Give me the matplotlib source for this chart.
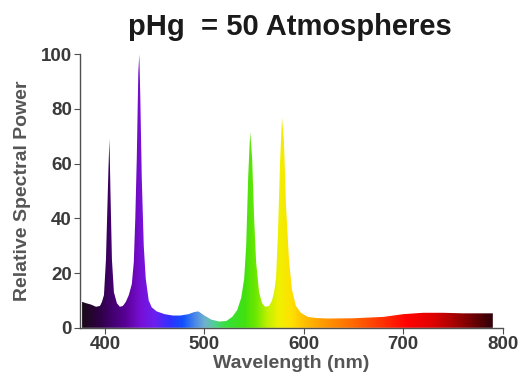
import numpy as np
import matplotlib
matplotlib.use("Agg")
import matplotlib.pyplot as plt
from matplotlib.colors import LinearSegmentedColormap

# Spectrum (wavelength nm, relative spectral power)
wavelength = [377, 381, 386, 391, 395, 397, 399, 401, 402.5, 403.5, 404.5, 405.5,
              407, 409, 412, 415, 418, 421, 424, 427, 429, 430.5, 432, 433.5, 434.5,
              435.5, 437, 439, 441, 444, 447, 452, 460, 468, 476, 484, 490, 494,
              500, 507, 515, 522, 528, 533, 537, 540, 542, 544, 546, 548, 550,
              552, 555, 558, 561, 565, 568, 570, 572, 574, 576, 578, 580, 582,
              585, 588, 592, 597, 604, 612, 625, 650, 680, 700, 720, 740, 760, 790]
power = [9.5, 9, 8.5, 7.7, 8, 9.5, 12, 25, 45, 58, 69, 50,
         25, 13, 9, 7.7, 8, 9.5, 12, 16, 24, 40, 62, 93, 100,
         85, 55, 30, 18, 10, 7.5, 6, 5, 4.5, 4.5, 5, 5.8, 6,
         4.5, 3, 2.3, 2.5, 4, 6.5, 11, 18, 30, 55, 71.5, 62, 40,
         24, 13, 9, 7.7, 8, 10, 13, 18, 35, 60, 77, 68, 45,
         25, 14, 8, 5.5, 4, 3.6, 3.4, 3.5, 4, 5, 5.5, 5.5, 5.3, 5.3]

x_ticks = [400, 500, 600, 700, 800]
y_ticks = [0, 20, 40, 60, 80, 100]
title = "pHg  = 50 Atmospheres"
x_label = "Wavelength (nm)"
y_label = "Relative Spectral Power"

plt.rcParams['font.family'] = ['Liberation Sans', 'DejaVu Sans']

# colour stops by wavelength (style)
stops = [(377, "#1a0a1a"), (395, "#300048"), (405, "#40006a"), (420, "#580096"),
         (436, "#7810d8"), (450, "#6a20f0"), (465, "#3030ff"), (478, "#1050ff"),
         (490, "#4a88e8"), (500, "#70b0d0"), (510, "#50d090"), (520, "#38e040"),
         (540, "#40e010"), (552, "#70e800"), (563, "#c0f000"), (575, "#f0f000"),
         (588, "#ffe000"), (600, "#ffc000"), (620, "#ff9a00"), (650, "#ff6800"),
         (680, "#ff3000"), (705, "#ff0000"), (730, "#e00000"), (760, "#900000"),
         (790, "#300008")]
lo, hi = stops[0][0], stops[-1][0]
spec_cmap = LinearSegmentedColormap.from_list(
    "spec", [((w - lo) / (hi - lo), c) for w, c in stops])

fig = plt.figure(figsize=(5.27, 3.79), dpi=100)
ax = fig.add_axes([0.152, 0.135, 0.802, 0.722])

wl = np.array(wavelength, float)
pw = np.array(power, float)
poly = ax.fill_between(wl, 0, pw, facecolor="none", edgecolor="none")
grad = np.linspace(0, 1, 1024).reshape(1, -1)
im = ax.imshow(grad, cmap=spec_cmap, aspect="auto",
               extent=[lo, hi, 0, 100], zorder=2, interpolation="bilinear")
im.set_clip_path(poly.get_paths()[0], transform=ax.transData)

ax.set_xlim(375, 800)
ax.set_ylim(0, 100)
ax.set_xticks(x_ticks)
ax.set_yticks(y_ticks)
for s in ["top", "right"]:
    ax.spines[s].set_visible(False)
for s in ["left", "bottom"]:
    ax.spines[s].set_color("#505050")
    ax.spines[s].set_linewidth(1.0)
ax.tick_params(colors="#505050", labelcolor="#3a3a3a", labelsize=13.5, length=4,
               direction="out", pad=2)
for lab in ax.get_xticklabels() + ax.get_yticklabels():
    lab.set_fontweight("bold")

ax.set_xlabel(x_label, fontsize=14, fontweight="bold", color="#555555", labelpad=1)
ax.set_ylabel(y_label, fontsize=14, fontweight="bold", color="#555555", labelpad=7)
fig.text(0.55, 0.93, title, fontsize=21, fontweight="bold", color="#1a1a1a",
         ha="center", va="center")

fig.savefig("out.png", dpi=100)
